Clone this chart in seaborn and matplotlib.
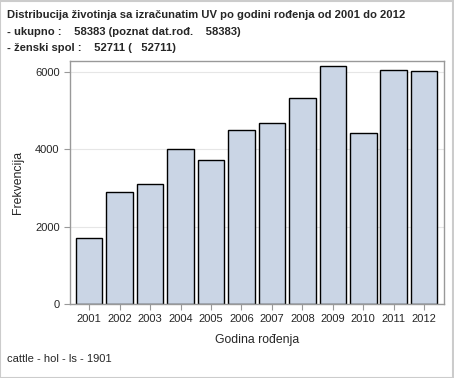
import pandas as pd
import matplotlib
matplotlib.use("Agg")
import matplotlib.pyplot as plt
import seaborn as sns

years = ['2001', '2002', '2003', '2004', '2005', '2006',
         '2007', '2008', '2009', '2010', '2011', '2012']
counts = [1700, 2890, 3100, 4010, 3740, 4500, 4680, 5330, 6160, 4430, 6060, 6030]
y_ticks = [0, 2000, 4000, 6000]

title_lines = [
    'Distribucija životinja sa izračunatim UV po godini rođenja od 2001 do 2012',
    '- ukupno :    58383 (poznat dat.rođ.    58383)',
    '- ženski spol :    52711 (   52711)',
]
footer = 'cattle - hol - ls - 1901'

df = pd.DataFrame({'Godina': years, 'Frekvencija': counts})

sns.set_style('white')
plt.rcParams['font.family'] = ['Liberation Sans', 'DejaVu Sans']

fig = plt.figure(figsize=(4.54, 3.78), dpi=100)
ax = fig.add_axes([70 / 454, 1 - 304 / 378, 374 / 454, 243 / 378])

ax.set_axisbelow(True)
ax.grid(True, color='#e6e6e6', linewidth=0.8)
sns.barplot(data=df, x='Godina', y='Frekvencija', color='#cad5e5', saturation=1,
            edgecolor='black', linewidth=1, width=0.87, ax=ax)

ax.set_xlim(-0.63, 11.65)
ax.set_ylim(0, 6290)
ax.set_yticks(y_ticks)
ax.set_yticklabels([str(v) for v in y_ticks])
ax.set_xlabel('Godina rođenja', fontsize=8.8, labelpad=7)
ax.set_ylabel('Frekvencija', fontsize=8.8, labelpad=8)
ax.tick_params(axis='both', labelsize=8, length=4, color='#999999', direction='out',
               bottom=True, left=True)
for s in ax.spines.values():
    s.set_color('#999999')
    s.set_linewidth(1)

ys = [15, 32, 48]
for line, y in zip(title_lines, ys):
    fig.text(7 / 454, 1 - y / 378, line, fontsize=8.15, fontweight='bold', va='center', ha='left')
fig.text(7 / 454, 1 - 359 / 378, footer, fontsize=8, va='center', ha='left')

fig.patches.append(plt.Rectangle((0.001, 0.001), 0.997, 0.997, transform=fig.transFigure,
                                 fill=False, edgecolor='#cccccc', linewidth=1.5))

fig.savefig('out.png', dpi=100)
